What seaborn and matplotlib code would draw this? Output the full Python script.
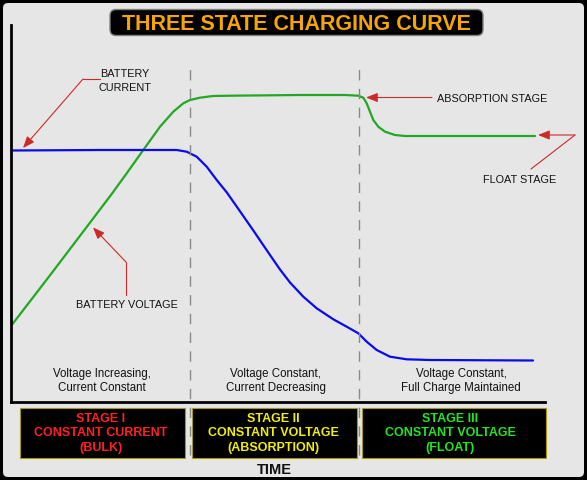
import matplotlib
matplotlib.use("Agg")
import matplotlib.pyplot as plt
import seaborn as sns
from matplotlib.patches import FancyBboxPatch

# -----------------------------
# DATA (time / level in arbitrary units)
# -----------------------------
volt_t = [0, 39, 70, 100.7, 115.7, 132.3, 149, 162.3, 172.3, 179, 189, 202, 219, 289, 334,
          347.3, 352.3, 355.7, 359, 362.3, 367.3, 374, 384, 394, 524]
volt_v = [76, 126.7, 167.5, 208, 228.7, 252, 275.3, 290.3, 298.7, 302, 304.3, 306, 306.3, 307, 307,
          306.3, 304.3, 298.7, 290.3, 282, 275.3, 270.3, 267, 266, 266]

curr_t = [0, 89, 165.7, 175.7, 185.7, 195.7, 205.7, 215.7, 226, 242, 259, 269, 279, 292.3,
          305.7, 322.3, 335.7, 347.3, 355.7, 365.7, 379, 395.7, 419, 522]
curr_i = [251.5, 252, 252, 250.3, 245.3, 235.3, 222, 209.7, 195, 172, 147, 132.5, 119.5, 105.3,
          93.7, 82.7, 75.3, 68.7, 60.3, 52, 45.3, 42.7, 42, 41.5]

stage_bounds = [179, 348]
stage_notes = ["Voltage Increasing,\nCurrent Constant",
               "Voltage Constant,\nCurrent Decreasing",
               "Voltage Constant,\nFull Charge Maintained"]
stage_note_x = [90.7, 264.5, 450]

stage_titles = [["STAGE I", "CONSTANT CURRENT", "(BULK)"],
                ["STAGE II", "CONSTANT VOLTAGE", "(ABSORPTION)"],
                ["STAGE III", "CONSTANT VOLTAGE", "(FLOAT)"]]
stage_colors = ["#ff2020", "#f2f000", "#22e622"]

# -----------------------------
# FIGURE
# -----------------------------
sns.set_style("white")
plt.rcParams["font.family"] = ["Liberation Sans", "DejaVu Sans"]

fig = plt.figure(figsize=(5.87, 4.8), dpi=100, facecolor="black")
fig.add_artist(FancyBboxPatch((0.03, 0.03), 5.81, 4.74,
                              boxstyle="round,pad=0,rounding_size=0.05",
                              transform=fig.dpi_scale_trans,
                              fc="#e6e6e6", ec="none", zorder=-10))

ax = fig.add_axes([11 / 587, 78 / 480, 534 / 587, 377 / 480])
ax.patch.set_visible(False)

sns.lineplot(x=volt_t, y=volt_v, ax=ax, color="#22a822", lw=1.6)
sns.lineplot(x=curr_t, y=curr_i, ax=ax, color="#0a0aee", lw=1.6)

ax.set_xlim(0, 534)
ax.set_ylim(0, 377)
ax.set_xticks([])
ax.set_yticks([])
ax.set_xlabel("")
ax.set_ylabel("")
for s in ["top", "right"]:
    ax.spines[s].set_visible(False)
for s in ["left", "bottom"]:
    ax.spines[s].set_linewidth(2)
    ax.spines[s].set_color("black")

# stage separators
for b in stage_bounds:
    ax.axvline(b, ymin=-0.141, ymax=0.889, color="#8a8a8a", lw=1,
               dashes=(7.5, 6), clip_on=False)

# stage notes
for x, note in zip(stage_note_x, stage_notes):
    l1, l2 = note.split("\n")
    ax.text(x, 24.5, l1, ha="center", va="baseline", fontsize=8.3, color="#111111")
    ax.text(x, 11, l2, ha="center", va="baseline", fontsize=8.3, color="#111111")

# -----------------------------
# ANNOTATIONS
# -----------------------------
red = "#cc2a2a"
arrow = dict(arrowstyle="-|>,head_length=0.7,head_width=0.28", color=red,
             lw=0.8, shrinkA=0, shrinkB=0, mutation_scale=10)
lbl = dict(fontsize=7.8, color="#111111", va="baseline")

ax.text(114, 324.7, "BATTERY", ha="center", **lbl)
ax.text(114, 311.3, "CURRENT", ha="center", **lbl)
ax.plot([89, 72], [323, 323], color=red, lw=0.8)
ax.annotate("", xy=(12, 254), xytext=(72, 323), arrowprops=arrow)

ax.text(115.7, 93.7, "BATTERY VOLTAGE", ha="center", **lbl)
ax.plot([115, 115], [107, 140], color=red, lw=0.8)
ax.annotate("", xy=(82, 174.5), xytext=(115, 140), arrowprops=arrow)

ax.text(426, 300.3, "ABSORPTION STAGE", ha="left", **lbl)
ax.annotate("", xy=(355, 304.5), xytext=(421, 304.5), arrowprops=arrow)

ax.text(508.5, 219.3, "FLOAT STAGE", ha="center", **lbl)
ax.annotate("", xy=(527, 267), xytext=(564, 267), arrowprops=arrow,
            annotation_clip=False)
ax.plot([564, 520], [267, 233], color=red, lw=0.8, clip_on=False)

# -----------------------------
# TITLE AND STAGE BOXES
# -----------------------------
fig.add_artist(FancyBboxPatch((1.10, 4.445), 3.73, 0.26,
                              boxstyle="round,pad=0,rounding_size=0.06",
                              transform=fig.dpi_scale_trans,
                              fc="black", ec="#808080", lw=1, zorder=2))
fig.text(296 / 587, (480 - 30) / 480, "THREE STATE CHARGING CURVE",
         ha="center", va="baseline", fontsize=15.5, weight="bold",
         color="#f7a600", zorder=3)

box_x = [(19.5, 184.6), (192, 357), (362, 545.5)]
text_x = [100.5, 273.5, 450.5]
for (x0, x1), tx, lines, c in zip(box_x, text_x, stage_titles, stage_colors):
    fig.add_artist(FancyBboxPatch((x0 / 100, 0.225), (x1 - x0) / 100, 0.50,
                                  boxstyle="square,pad=0",
                                  transform=fig.dpi_scale_trans,
                                  fc="black", ec="#a89a00", lw=0.8, zorder=2))
    for yy, line in zip([421.5, 436.5, 451.5], lines):
        fig.text(tx / 587, (480 - yy) / 480, line, ha="center", va="baseline",
                 fontsize=9, weight="bold", color=c, zorder=3)

fig.text(274 / 587, (480 - 474.3) / 480, "TIME", ha="center", va="baseline",
         fontsize=10.5, weight="bold", color="#111111")

plt.savefig("out.png", dpi=100, facecolor="black")
